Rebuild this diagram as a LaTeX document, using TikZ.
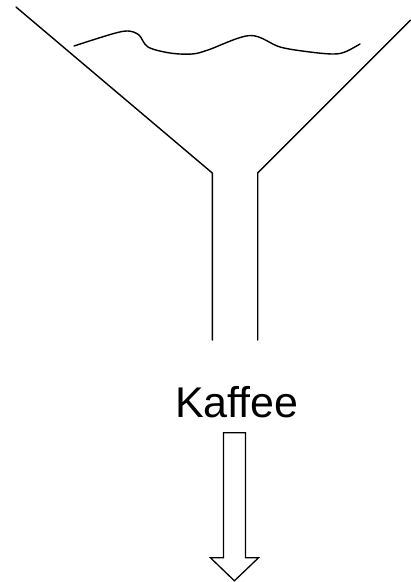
\documentclass[tikz,border=0pt]{standalone}
\usepackage{fontspec}
\setmainfont{Liberation Sans}
\begin{document}
\begin{tikzpicture}[x=1pt,y=-1pt,
  stroke/.style={line width=1.4pt,line join=round,line cap=round},
  label/.style={inner sep=0pt,font=\fontsize{43}{50}\selectfont}]
\useasboundingbox (0,0) rectangle (411,582);
% funnel walls
\coordinate (lt) at (16,7);
\coordinate (lb) at (212.3,173);
\coordinate (rt) at (410.7,20);
\coordinate (rb) at (257.7,173);
\coordinate (ls) at (212.3,340);
\coordinate (rs) at (257.7,340);
\draw[stroke] (lt) -- (lb) -- (ls);
\draw[stroke] (rt) -- (rb) -- (rs);
% liquid surface
\draw[stroke] plot[smooth,tension=0.55] coordinates {
  (74,46) (112,34) (128,31) (139,35) (148,47) (170,53) (192,54) (208,50)
  (250,35.5) (280,47) (310,52) (333,54) (345,52) (360,44)};
% label
\node[label,anchor=base west] (kaffee) at (175,417.7) {Kaffee};
% outflow arrow
\draw[stroke,line width=1.3pt,line cap=butt,line join=miter]
  (223.4,432.7) -- (245.4,432.7) -- (245.4,557.7) -- (258.6,557.7)
  -- (234.4,580.8) -- (210.4,557.7) -- (223.4,557.7) -- cycle;
\end{tikzpicture}
\end{document}
